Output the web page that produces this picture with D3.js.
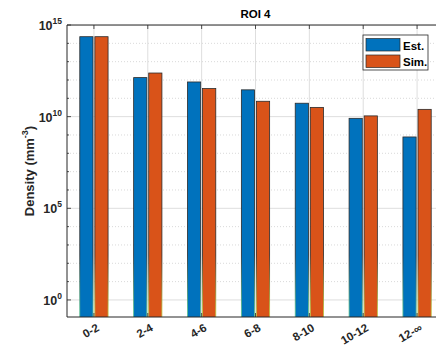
<!DOCTYPE html>
<html>
<head>
<meta charset="utf-8">
<script src="https://cdn.jsdelivr.net/npm/d3@7"></script>
<style>
  html, body { margin: 0; padding: 0; background: #fff; }
  svg { display: block; font-family: "Liberation Sans", Arial, sans-serif; }
</style>
</head>
<body>
<svg id="chart" width="436" height="347"></svg>
<script>
// Size-class categories (mm) and density per class
const categories = ["0-2", "2-4", "4-6", "6-8", "8-10", "10-12", "12-\u221E"];
const estValues = [2.3e14, 1.35e12, 7.8e11, 2.9e11, 5.4e10, 8.1e9, 7.8e8];
const simValues = [2.3e14, 2.4e12, 3.4e11, 6.9e10, 3.2e10, 1.1e10, 2.5e10];
const seriesNames = ["Est.", "Sim."];
const majorTickExps = [0, 5, 10, 15];
const minorTickExps = d3.range(0, 16);
const titleText = "ROI 4";

const colors = ["#0072BD", "#D95319"];
const edgeTints = ["#5cc08a", "#b8c040"];
const textColor = "#262626";

const svg = d3.select("#chart");
const margin = { left: 67, top: 25, right: 444, bottom: 317 };

const x = d3.scaleLinear().domain([0.5, 7.5]).range([margin.left, margin.right]);
const y = d3.scaleLog().domain([Math.pow(10, -0.93), 1e15]).range([margin.bottom, margin.top]);

const defs = svg.append("defs");
defs.append("clipPath").attr("id", "plotclip")
  .append("rect")
  .attr("x", margin.left).attr("y", margin.top)
  .attr("width", margin.right - margin.left).attr("height", margin.bottom - margin.top);

// Bar edge colour fades into a tint near the baseline
edgeTints.forEach((tint, s) => {
  const g = defs.append("linearGradient").attr("id", "edge" + s)
    .attr("gradientUnits", "userSpaceOnUse")
    .attr("x1", 0).attr("x2", 0).attr("y1", 255).attr("y2", 310);
  g.append("stop").attr("offset", 0).attr("stop-color", "#2a2a2a");
  g.append("stop").attr("offset", 1).attr("stop-color", tint);
});

const plot = svg.append("g").attr("clip-path", "url(#plotclip)");

// Minor (dotted) and major (solid) horizontal grid
plot.append("g").selectAll("line")
  .data(minorTickExps.filter(e => !majorTickExps.includes(e)))
  .join("line")
  .attr("x1", margin.left).attr("x2", margin.right)
  .attr("y1", e => y(Math.pow(10, e))).attr("y2", e => y(Math.pow(10, e)))
  .attr("stroke", "#cfcfcf").attr("stroke-width", 0.8)
  .attr("stroke-dasharray", "1,2");

plot.append("g").selectAll("line")
  .data(majorTickExps)
  .join("line")
  .attr("x1", margin.left).attr("x2", margin.right)
  .attr("y1", e => y(Math.pow(10, e))).attr("y2", e => y(Math.pow(10, e)))
  .attr("stroke", "#dedede").attr("stroke-width", 1);

// Vertical grid at category centres
plot.append("g").selectAll("line")
  .data(categories)
  .join("line")
  .attr("x1", (d, i) => x(i + 1)).attr("x2", (d, i) => x(i + 1))
  .attr("y1", margin.top).attr("y2", margin.bottom)
  .attr("stroke", "#dedede").attr("stroke-width", 1);

// Grouped bars
const barW = 0.245;
const offsets = [-0.14, 0.14];
const series = [estValues, simValues];
series.forEach((vals, s) => {
  plot.append("g").selectAll("rect")
    .data(vals)
    .join("rect")
    .attr("x", (v, i) => x(i + 1 + offsets[s] - barW / 2))
    .attr("width", x(barW) - x(0))
    .attr("y", v => y(v))
    .attr("height", v => margin.bottom + 5 - y(v))
    .attr("fill", colors[s])
    .attr("stroke", `url(#edge${s})`)
    .attr("stroke-width", 0.8);
});

// Axes lines
const axisG = svg.append("g");
axisG.append("line")
  .attr("x1", margin.left).attr("x2", margin.left)
  .attr("y1", margin.top).attr("y2", margin.bottom)
  .attr("stroke", textColor).attr("stroke-width", 1);
axisG.append("line")
  .attr("x1", margin.left).attr("x2", margin.right)
  .attr("y1", margin.bottom).attr("y2", margin.bottom)
  .attr("stroke", textColor).attr("stroke-width", 1);
axisG.append("line")
  .attr("x1", margin.left).attr("x2", margin.right)
  .attr("y1", margin.top).attr("y2", margin.top)
  .attr("stroke", textColor).attr("stroke-width", 1);

// Y ticks (major and minor, inward)
axisG.selectAll("line.ytick")
  .data(minorTickExps)
  .join("line").attr("class", "ytick")
  .attr("x1", margin.left)
  .attr("x2", e => margin.left + (majorTickExps.includes(e) ? 4 : 2))
  .attr("y1", e => y(Math.pow(10, e))).attr("y2", e => y(Math.pow(10, e)))
  .attr("stroke", textColor).attr("stroke-width", 0.8);

// X ticks (bottom and top, inward)
categories.forEach((c, i) => {
  axisG.append("line")
    .attr("x1", x(i + 1)).attr("x2", x(i + 1))
    .attr("y1", margin.bottom).attr("y2", margin.bottom - 4)
    .attr("stroke", textColor).attr("stroke-width", 0.8);
  axisG.append("line")
    .attr("x1", x(i + 1)).attr("x2", x(i + 1))
    .attr("y1", margin.top).attr("y2", margin.top + 4)
    .attr("stroke", textColor).attr("stroke-width", 0.8);
});

// Y tick labels as 10^n
const yLab = svg.append("g").attr("fill", textColor).attr("font-weight", "bold");
majorTickExps.forEach(e => {
  const t = yLab.append("text")
    .attr("x", margin.left - 5)
    .attr("y", y(Math.pow(10, e)) + 5)
    .attr("text-anchor", "end")
    .attr("font-size", 12.5);
  t.append("tspan").text("10");
  t.append("tspan").attr("font-size", 8.5).attr("dy", -6).text(String(e));
});

// X tick labels, rotated
const xLab = svg.append("g").attr("fill", textColor).attr("font-weight", "bold").attr("font-size", 11.5);
categories.forEach((c, i) => {
  xLab.append("text")
    .attr("transform", `translate(${x(i + 1) + 6},${margin.bottom + 13}) rotate(-30)`)
    .attr("text-anchor", "end")
    .text(c);
});

// Y axis label
const yTitle = svg.append("text")
  .attr("transform", `translate(34,${(margin.top + margin.bottom) / 2}) rotate(-90)`)
  .attr("text-anchor", "middle")
  .attr("fill", textColor)
  .attr("font-weight", "bold")
  .attr("font-size", 13);
yTitle.append("tspan").text("Density (mm");
yTitle.append("tspan").attr("font-size", 9).attr("dy", -6).text("-3");
yTitle.append("tspan").attr("dy", 6).text(")");

// Title
svg.append("text")
  .attr("x", (margin.left + margin.right) / 2)
  .attr("y", 18)
  .attr("text-anchor", "middle")
  .attr("fill", "#000")
  .attr("font-weight", "bold")
  .attr("font-size", 11.5)
  .text(titleText);

// Legend
const leg = svg.append("g");
leg.append("rect")
  .attr("x", 363).attr("y", 35).attr("width", 65).attr("height", 35)
  .attr("fill", "#fff").attr("stroke", "#262626").attr("stroke-width", 0.8);
seriesNames.forEach((n, s) => {
  leg.append("rect")
    .attr("x", 366).attr("y", 38.5 + s * 16.5).attr("width", 34).attr("height", 12.5)
    .attr("fill", colors[s]).attr("stroke", "#2a2a2a").attr("stroke-width", 0.7);
  leg.append("text")
    .attr("x", 403).attr("y", 49.5 + s * 16.5)
    .attr("fill", "#000").attr("font-weight", "bold").attr("font-size", 11.5)
    .text(n);
});
</script>
</body>
</html>
